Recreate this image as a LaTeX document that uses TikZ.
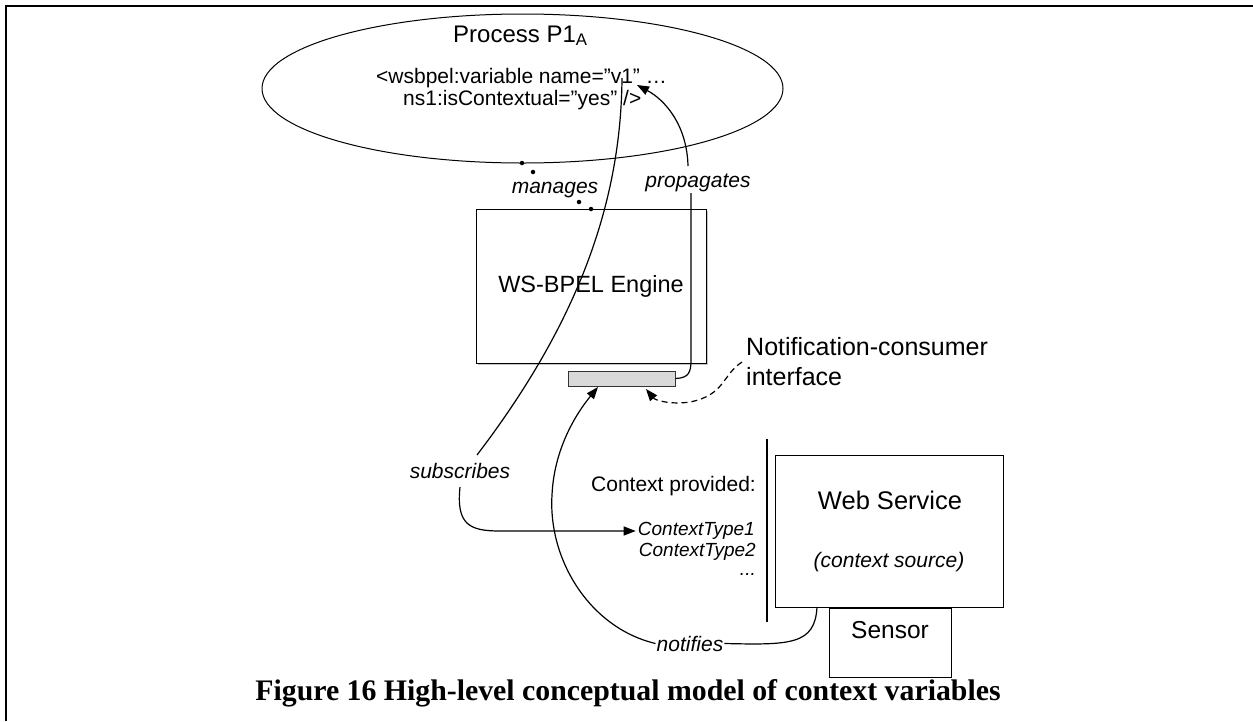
\documentclass[tikz,border=0pt]{standalone}
\usepackage{fontspec}
\setmainfont{Liberation Sans}
\newfontfamily\capfont{Liberation Serif}
\usetikzlibrary{shapes.geometric,arrows.meta}
\tikzset{
  lbl/.style={font=\fontsize{21}{24}\selectfont\itshape, inner sep=1pt, fill=white},
  conn/.style={line width=1.2pt},
  arr/.style={conn, -{Triangle[length=12pt,width=9pt]}},
  dashedarr/.style={arr, dash pattern=on 6pt off 4pt},
  dotn/.style={circle, fill, inner sep=0pt, minimum size=4.5pt},
  box/.style={draw, line width=1pt, inner sep=0pt},
  txt/.style={inner sep=1pt},
}
\begin{document}
\begin{tikzpicture}[x=1pt,y=-1pt]
\useasboundingbox (0,0) rectangle (1253,721);
% frame
\draw[line width=2pt] (6,721) -- (6,6) -- (1253,6);

% process ellipse
\node[ellipse, draw, line width=1pt, minimum width=521pt, minimum height=149pt, inner sep=0pt] (proc) at (522.5,88.5) {};
\node[txt, anchor=base west, font=\fontsize{24}{26}\selectfont] (ptitle) at (452,42) {Process P1\textsubscript{A}};
\node[txt, anchor=base west, font=\fontsize{21}{22}\selectfont] (xml1) at (375,83) {<wsbpel:variable name=”v1" …};
\node[txt, anchor=base west, font=\fontsize{21}{22}\selectfont] (xml2) at (402,105) {ns1:isContextual=”yes” />};

% engine
\fill[gray!45] (478,211) rectangle (708,365);
\node[box, fill=white, minimum width=230pt, minimum height=154pt, font=\fontsize{23.5}{26}\selectfont] (engine) at (591,286) {WS-BPEL Engine};
\node[box, draw=black!80, fill=gray!30, minimum width=107pt, minimum height=15pt] (bar) at (621.5,378.5) {};

% manages dots
\node[dotn] (d1) at (522,163) {};
\node[dotn] (d2) at (533,172) {};
\node[lbl, anchor=base] (manages) at (555,193) {manages};
\node[dotn] (d3) at (579,202) {};
\node[dotn] (d4) at (591,209) {};

% propagates
\node[lbl, anchor=base] (prop) at (698,187) {propagates};
\coordinate (tipP) at (637,85);
\coordinate (pbot) at (691,193);
\coordinate (ptop) at (688,166);
\draw[conn] (bar.east) .. controls (689,378) and (691,372) .. (691,360) -- (pbot);
\draw[arr] (ptop) .. controls (687,125) and (665,100) .. (tipP);

% subscribes
\coordinate (sstart) at (622,78);
\coordinate (sa) at (477,455);
\coordinate (sb) at (460,487);
\node[lbl] (subs) at (460,471) {subscribes};
\draw[conn] (sstart) .. controls (621,200) and (580,320) .. (sa);

% context provided
\node[txt, anchor=east, font=\fontsize{21}{24}\selectfont] (cprov) at (757,486) {Context provided:};
\node[txt, anchor=east, inner sep=2pt, font=\fontsize{19}{21}\selectfont\itshape] (ct1) at (757,531) {ContextType1};
\node[txt, anchor=east, font=\fontsize{19}{21}\selectfont\itshape] (ct2) at (757,552) {ContextType2};
\node[txt, anchor=east, font=\fontsize{19}{21}\selectfont\itshape] (ct3) at (757,574) {...};
\draw[arr] (sb) .. controls (456,525) and (470,531) .. (500,531) -- (ct1.west);
\draw[line width=2pt] (767,439) coordinate (sepA) -- (767,622) coordinate (sepB);

% web service
\node[box, minimum width=228pt, minimum height=152pt] (ws) at (889,531) {};
\node[txt, font=\fontsize{25.5}{28}\selectfont] (wst) at (890,500) {Web Service};
\node[txt, font=\fontsize{21}{24}\selectfont\itshape] (wss) at (889,562) {(context source)};
\node[box, minimum width=122pt, minimum height=69pt] (sensor) at (890,642.5) {};
\node[txt, font=\fontsize{24.5}{26}\selectfont] (sens) at (890,630) {Sensor};

% notifies
\node[lbl, anchor=base] (notif) at (690,651) {notifies};
\coordinate (nstart) at (817,607);
\coordinate (nmid) at (552,495);
\draw[conn] (nstart) .. controls (815,645) and (790,645) .. (notif.east);
\draw[arr] (notif.west) .. controls (590,628) and (548,560) .. (nmid) .. controls (554,450) and (575,415) .. (598,387);

% notification-consumer interface
\node[txt, anchor=north west, align=left, font=\fontsize{25}{30}\selectfont] (nci) at (745,336) {Notification-consumer\\interface};
\coordinate (dstart) at (742,362);
\draw[dashedarr] (dstart) .. controls (722,375) and (725,395) .. (690,402) .. controls (670,405) and (655,400) .. (646,389);

% caption
\node[font=\capfont\bfseries\fontsize{29.8}{32}\selectfont] (cap) at (628,693) {Figure 16 High-level conceptual model of context variables};
\end{tikzpicture}
\end{document}
